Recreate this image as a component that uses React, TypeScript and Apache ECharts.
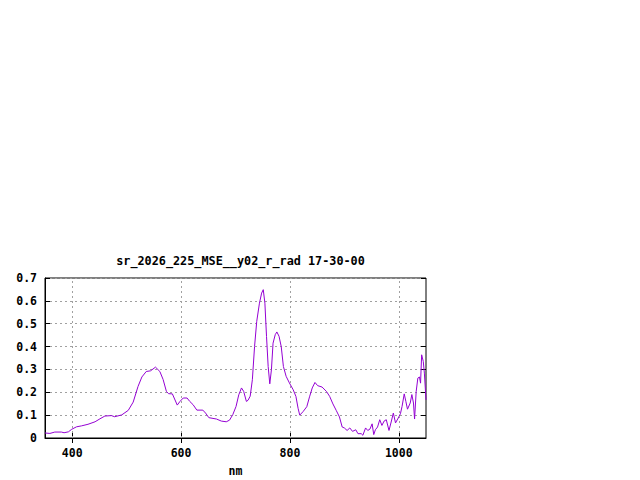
import React, { useEffect, useRef } from "react";
import * as echarts from "echarts";

const titleText = "sr_2026_225_MSE__y02_r_rad 17-30-00";
const xAxisName = "nm";
const xTicks = [400, 600, 800, 1000];

const wavelengths = [
  350, 359, 368, 380, 385, 393, 399, 408, 417, 429, 442, 451, 460, 472, 478, 491,
  503, 512, 521, 528, 536, 544, 553, 561, 567, 573, 577, 584, 593, 598, 604, 611,
  616, 622, 629, 640, 645, 651, 665, 674, 683, 689, 695, 701, 706, 711, 715, 720,
  723, 727, 731, 735, 739, 744, 748, 751, 754, 757, 760, 763, 766, 769, 773, 776,
  780, 784, 788, 793, 799, 806, 811, 815, 818, 824, 831, 836, 841, 846, 851, 859,
  867, 873, 879, 885, 891, 896, 900, 905, 910, 915, 921, 925, 931, 934, 939, 943,
  947, 951, 954, 957, 961, 965, 969, 973, 977, 982, 986, 990, 994, 998, 1003, 1006,
  1010, 1013, 1016, 1021, 1024, 1027, 1029, 1032, 1035, 1038, 1040, 1042, 1045, 1047, 1050,
];

const radiance = [
  0.022, 0.020, 0.026, 0.026, 0.023, 0.027, 0.038, 0.049, 0.053, 0.060, 0.071, 0.084, 0.096, 0.098, 0.093, 0.101,
  0.121, 0.157, 0.226, 0.267, 0.291, 0.294, 0.310, 0.291, 0.256, 0.204, 0.194, 0.193, 0.144, 0.160, 0.175, 0.175,
  0.160, 0.146, 0.122, 0.122, 0.109, 0.089, 0.083, 0.074, 0.071, 0.078, 0.102, 0.138, 0.189, 0.219, 0.204, 0.160,
  0.165, 0.183, 0.255, 0.400, 0.510, 0.590, 0.634, 0.649, 0.590, 0.444, 0.313, 0.237, 0.299, 0.415, 0.452, 0.464,
  0.445, 0.400, 0.313, 0.270, 0.241, 0.211, 0.182, 0.130, 0.100, 0.115, 0.137, 0.180, 0.219, 0.243, 0.229, 0.223,
  0.204, 0.182, 0.149, 0.121, 0.092, 0.048, 0.044, 0.033, 0.044, 0.029, 0.036, 0.019, 0.019, 0.012, 0.044, 0.033,
  0.039, 0.062, 0.015, 0.036, 0.048, 0.080, 0.055, 0.074, 0.080, 0.033, 0.070, 0.109, 0.066, 0.083, 0.106, 0.138,
  0.193, 0.160, 0.126, 0.153, 0.190, 0.153, 0.083, 0.204, 0.262, 0.267, 0.240, 0.364, 0.335, 0.284, 0.167,
];

const FONT = "'DejaVu Sans Mono', 'Liberation Mono', monospace";

export default function App() {
  const ref = useRef<HTMLDivElement>(null);

  useEffect(() => {
    document.body.style.margin = "0";
    if (!ref.current) return;
    const chart = echarts.init(ref.current, undefined, { renderer: "svg" });
    const data = wavelengths.map((w, i) => [w, radiance[i]]);
    const gridColor = "#a0a0a0";
    const labelStyle = {
      color: "#000",
      fontFamily: FONT,
      fontWeight: "bold" as const,
      fontSize: 11.5,
    };
    chart.setOption({
      animation: false,
      backgroundColor: "#fff",
      title: {
        text: titleText,
        left: 235.5,
        top: 250,
        textAlign: "center",
        textStyle: { ...labelStyle, fontSize: 11.8 },
      },
      grid: {
        left: 45,
        top: 278,
        right: 214,
        bottom: 42,
        outerBoundsMode: "none",
        containLabel: false,
        show: true,
        borderColor: "#000",
        borderWidth: 1,
        backgroundColor: "transparent",
      },
      xAxis: [
        {
          type: "value",
          min: 350,
          max: 1050,
          name: xAxisName,
          nameLocation: "middle",
          nameGap: 27,
          nameTextStyle: { ...labelStyle },
          axisLine: { show: true, lineStyle: { color: "#000", width: 1 } },
          axisTick: { show: true, inside: true, length: 5, customValues: xTicks, lineStyle: { color: "#000" } },
          axisLabel: { ...labelStyle, margin: 9, customValues: xTicks, formatter: (v: number) => String(v) },
          splitLine: { show: false },
        },
        {
          type: "value",
          position: "top",
          min: 350,
          max: 1050,
          axisLine: { show: false },
          axisTick: { show: true, inside: true, length: 5, customValues: xTicks, lineStyle: { color: "#000" } },
          axisLabel: { show: false },
          splitLine: { show: false },
        },
      ],
      yAxis: [
        {
          type: "value",
          min: 0,
          max: 0.7,
          interval: 0.1,
          axisLine: { show: true, lineStyle: { color: "#000", width: 1 } },
          axisTick: { show: true, inside: true, length: 5, lineStyle: { color: "#000" } },
          axisLabel: {
            ...labelStyle,
            margin: 8,
            formatter: (v: number) => (Math.abs(v) < 1e-9 ? "0" : v.toFixed(1)),
          },
          splitLine: { show: true, lineStyle: { color: gridColor, type: [2, 3], width: 1 } },
        },
        {
          type: "value",
          position: "right",
          min: 0,
          max: 0.7,
          interval: 0.1,
          axisLine: { show: false },
          axisTick: { show: true, inside: true, length: 5, lineStyle: { color: "#000" } },
          axisLabel: { show: false },
          splitLine: { show: false },
        },
      ],
      series: [
        {
          type: "line",
          data,
          xAxisIndex: 0,
          yAxisIndex: 0,
          showSymbol: false,
          symbol: "none",
          clip: true,
          lineStyle: { color: "#9400d3", width: 1 },
          markLine: {
            silent: true,
            symbol: ["none", "none"],
            label: { show: false },
            lineStyle: { color: gridColor, type: [2, 3], width: 1 },
            data: xTicks.map((t) => ({ xAxis: t })),
          },
          z: 3,
        },
      ],
    });
    return () => chart.dispose();
  }, []);

  return <div ref={ref} style={{ width: 640, height: 480 }} />;
}
